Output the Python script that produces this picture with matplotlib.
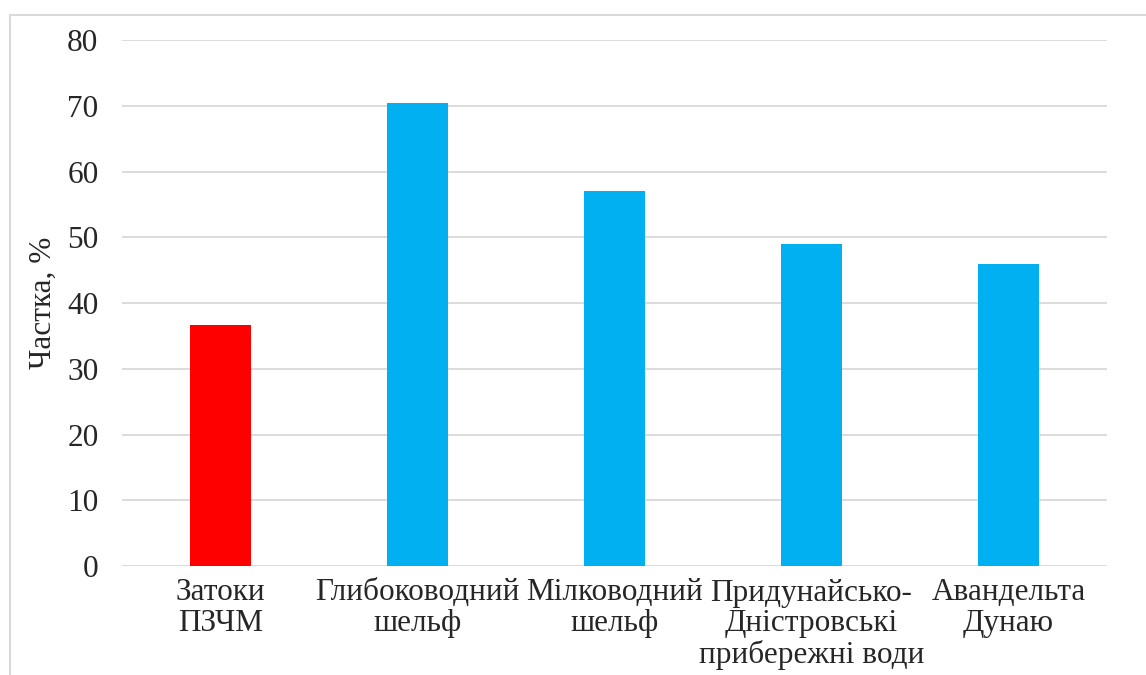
import matplotlib
matplotlib.use("Agg")
import matplotlib.pyplot as plt
from matplotlib.patches import Rectangle

categories = ["Затоки\nПЗЧМ", "Глибоководний\nшельф", "Мілководний\nшельф",
              "Придунайсько-\nДністровські\nприбережні води", "Авандельта\nДунаю"]
values = [36.6, 70.4, 57.0, 48.9, 45.9]
bar_colors = ["#FF0000", "#00B0F0", "#00B0F0", "#00B0F0", "#00B0F0"]
y_ticks = [0, 10, 20, 30, 40, 50, 60, 70, 80]
y_label = "Частка, %"

plt.rcParams["font.family"] = ["Liberation Serif", "DejaVu Serif"]
FS = 22.5

fig = plt.figure(figsize=(11.46, 6.75), dpi=100)
fig.patches.append(Rectangle((10 / 1146, -0.1), 1.2, 1 - 15 / 675 + 0.1,
                             transform=fig.transFigure, fill=False,
                             edgecolor="#D9D9D9", linewidth=1.5))

ax = fig.add_axes([122 / 1146, 1 - 566 / 675, (1107 - 122) / 1146, (566 - 40) / 675])
x = range(len(categories))
ax.bar(x, values, width=0.31, color=bar_colors, zorder=3)

ax.set_xlim(-0.5, len(categories) - 0.5)
ax.set_ylim(0, 80)
ax.set_yticks(y_ticks)
ax.set_xticks(list(x))
ax.set_xticklabels(categories, fontsize=FS, linespacing=1.08)
ax.tick_params(axis="y", length=0, pad=17, labelsize=FS, labelcolor="#262626")
ax.tick_params(axis="x", length=0, pad=9, labelcolor="#262626")
ax.yaxis.grid(True, color="#D9D9D9", linewidth=1.3, zorder=0)
for s in ax.spines.values():
    s.set_visible(False)
ax.set_ylabel(y_label, fontsize=FS, color="#262626", labelpad=7)

fig.savefig("out.png", dpi=100, facecolor="white")
